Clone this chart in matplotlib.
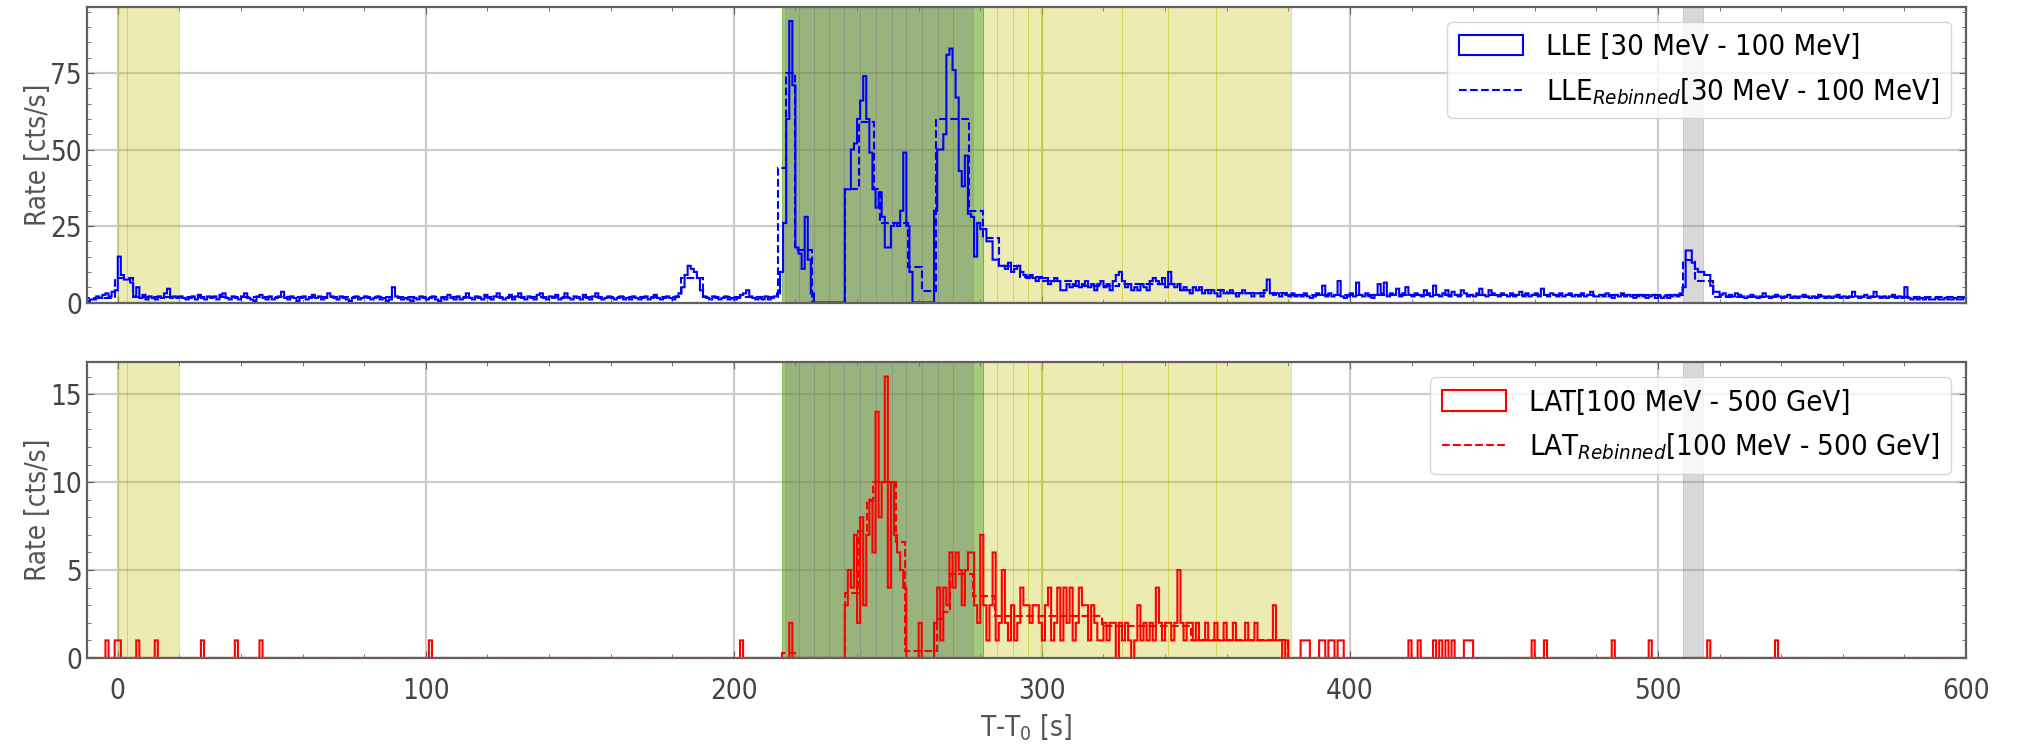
import numpy as np
import matplotlib.pyplot as plt
from matplotlib.ticker import MultipleLocator, AutoMinorLocator

# LLE light curve, 1 s bins starting at T0-10 s (rate in cts/s)
lle_pre = [0.5, 1, 1, 2, 1.5, 2.5, 3, 2, 3.5, 4,
           15, 9, 7.5, 7.5, 6.5, 2, 5, 1.5, 2.5, 1,
           2, 1.5, 1, 2, 1.5, 3, 4.5, 1.5, 2, 1.5]
lle_quiet = [2, 1.5, 1, 1.5, 2, 1, 2.5, 1.5, 1, 2,
             1.5, 2, 1, 2.5, 3, 1.5, 1, 2, 1.5, 1,
             2, 3, 1.5, 1, 0.5, 2, 2.5, 1.5, 1, 2,
             1, 1.5, 2, 3.5, 1.5, 1, 2, 1.5, 0.5, 1.5,
             2, 1, 1.5, 2.5, 1.5, 2, 1, 1.5, 3, 2,
             1.5, 1, 2, 1.5, 1, 0.5, 1.5, 2, 1, 1.5,
             2, 1.5, 1, 1.5, 2, 1, 1.5, 0.5, 1, 5,
             2, 1.5, 1, 1.5, 1, 0.5, 1.5, 1, 2, 1.5,
             1, 1.5, 2, 1, 0.5, 1.5, 1, 2.5, 1.5, 1,
             2, 1, 1.5, 3, 1.5, 1, 2, 1.5, 1, 2.5,
             1.5, 1, 2, 3, 1.5, 1, 1.5, 2.5, 1, 2,
             3, 1.5, 1, 2, 1.5, 1, 2.5, 3, 1.5, 1,
             2, 1.5, 2.5, 1, 1.5, 3, 1.5, 1, 2, 1.5,
             1, 2.5, 1.5, 1, 2, 3, 1.5, 1, 1.5, 2,
             1.5, 1, 1.5, 2, 1, 1.5, 1, 2, 1.5, 1,
             1.5, 2, 1, 1.5, 2.5, 1.5, 1, 1.5, 2, 1.5,
             1, 2, 3]
lle_precursor = [5, 9, 12, 11, 10, 8, 4, 2]
lle_quiet2 = [1.5, 1, 2, 1.5, 1, 1.5, 2, 1, 1.5, 1,
              1.5, 2.5, 3, 4, 2, 1.5, 1, 1.5, 1, 2,
              1, 1.5, 2]
lle_burst = [3, 10, 26, 60, 92, 71, 18, 16, 11, 28, 14, 3,
             0, 0, 0, 0, 0, 0, 0, 0, 0, 0,
             37, 37, 50, 52, 60, 66, 74, 60, 49, 37, 31,
             36, 28, 18, 18, 25, 26, 25, 30, 49, 25, 10,
             0, 0, 0, 0, 0, 0, 0,
             30, 50, 50, 55, 81, 83, 76, 67, 43, 38, 48, 29, 28,
             15, 26, 24, 24, 20, 20, 14, 14, 12, 12, 11, 13,
             10, 11, 12, 10, 9, 8, 9, 8, 7, 8,
             8, 8, 6, 7, 8, 7, 4, 4, 6, 5]
lle_tail = [6, 7, 5, 6, 7, 5, 6, 4, 6, 7,
            5, 6, 4, 7, 9, 10, 7, 5, 6, 4,
            5, 4, 6, 5, 4, 7, 8, 7, 6, 8,
            5, 10, 6, 5, 6, 4, 5, 4, 3, 5,
            4, 5, 3, 4, 3, 4, 3, 2, 4, 3,
            3, 4, 3, 2, 3, 4, 3, 3, 2, 3,
            3, 2, 4, 7.5, 3, 2.5, 3, 2, 3, 2.5]
lle_post = [2, 3, 2, 2.5, 2, 3, 2, 1.5, 2, 3,
            2.5, 5.5, 2, 3, 2, 2.5, 7, 2, 1.5, 2,
            3, 2, 6.5, 2.5, 2, 3, 2, 1.5, 2.5, 6,
            3, 6.5, 2, 3, 2.5, 4.5, 2, 3, 5, 2.5,
            2, 3, 2.5, 2, 4, 3, 2, 5.5, 2.5, 2,
            3, 4, 2, 3.5, 2.5, 2, 4, 3, 2, 2.5,
            2, 3, 4.5, 2.5, 2, 4, 3, 2.5, 2, 3,
            2.5, 2, 3, 2, 2.5, 3.5, 2, 3, 2, 2.5,
            3, 2, 4.5, 2.5, 2, 3, 2.5, 2, 3, 2,
            2.5, 3, 2, 2.5, 2, 3, 2, 2.5, 3.5, 2,
            2, 2.5, 2, 3, 2, 1.5, 2.5, 2, 3, 2,
            2.5, 2, 1.5, 2, 2.5, 2, 1.5, 2, 2.5, 1.5,
            2, 1.5, 2, 1.5, 2, 2.5, 2, 3, 5, 17,
            17, 13, 11, 10, 10, 9, 9, 5.5, 3.5, 3.5,
            2.5, 3, 2, 2.5, 2, 3, 2.5, 2, 1.5, 2,
            2.5, 2, 1.5, 2, 3, 2, 1.5, 2, 2.5, 2,
            1.5, 2, 2.5, 1.5, 2, 1.5, 2, 2.5, 2, 1.5,
            2, 1.5, 2.5, 2, 1.5, 2, 1.5, 2, 2.5, 1.5,
            2, 1.5, 2, 3.5, 2, 1.5, 2, 2.5, 1.5, 2,
            3.5, 2, 1.5, 2, 1.5, 2, 2.5, 1.5, 2, 1.5,
            5, 1.5, 1, 1.5, 1, 1.5, 1, 1.5, 1, 1,
            1.5, 1, 1, 1.5, 1, 1, 1.5, 1, 1, 1.5]

# LLE rebinned (block edges and rates)
lle_rb_edges = [-10, -1, 5, 183, 190, 214.5, 217, 220, 225.5, 236, 240.5, 245.5,
                247.5, 256.5, 261, 265.5, 276.5, 281, 286, 293, 300, 310, 325,
                345, 360, 380, 508, 512, 518, 600]
lle_rb_rate = [1.5, 8, 1.8, 8, 1.8, 44, 75, 17, 0, 37, 59, 37, 26, 11.6, 3.7,
               60, 30, 21, 12, 8.5, 7, 5.5, 6, 4, 3, 2.3, 14, 7, 1.8]

# LAT light curve, 1 s bins, only the non-empty bins listed
lat_t = [-4, -1, 0, 6, 12, 27, 38, 46, 101, 202, 218,
         236, 237, 238, 239, 240, 241, 242, 243, 244, 245, 246, 247, 248,
         249, 250, 251, 252, 253, 254, 255, 260,
         265, 266, 267, 268, 269, 270, 271, 272, 273, 274, 275, 276, 277,
         278, 279, 280, 281, 282, 283, 284, 285, 286, 287, 288, 289, 290,
         291, 292, 293, 294, 295, 296, 297, 298, 299, 300, 301, 302, 303,
         304, 305, 306, 307, 308, 309, 310, 311, 312, 313, 314, 315, 316,
         317, 318, 319, 320, 321, 322, 323, 325, 326, 327, 328, 330, 331,
         332, 333, 334, 335, 336, 337, 338, 339, 340, 341, 342, 343, 344,
         345, 346, 347, 348, 349, 350, 351, 352, 353, 354, 355, 356, 357,
         358, 359, 360, 361, 362, 363, 364, 365, 366, 367, 368, 369, 370,
         371, 372, 373, 374, 375, 376, 377, 379,
         384, 385, 386, 390, 391, 393, 394, 396, 397,
         419, 422, 427, 429, 431, 433, 437, 438, 439,
         459, 463, 485, 497, 516, 538]
lat_rate = [1, 1, 1, 1, 1, 1, 1, 1, 1, 1, 2,
            3, 5, 4, 7, 2, 8, 3, 7, 9, 6, 14, 8, 10,
            16, 4, 10, 7, 6, 5, 4, 2,
            2, 4, 1, 4, 3, 6, 4, 6, 5, 3, 5, 6, 6,
            3, 2, 7, 3, 1, 3, 6, 1, 2, 5, 2, 1, 3,
            1, 2, 4, 3, 3, 2, 3, 3, 2, 1, 3, 4, 1,
            2, 4, 1, 4, 2, 4, 1, 2, 4, 3, 3, 1, 3,
            2, 1, 1, 2, 1, 2, 2, 2, 1, 2, 1, 1, 3,
            1, 2, 1, 2, 1, 4, 2, 1, 2, 2, 1, 2, 5,
            2, 1, 2, 2, 1, 2, 1, 1, 2, 1, 1, 2, 1,
            1, 2, 1, 1, 2, 1, 1, 1, 2, 1, 1, 2, 1,
            1, 1, 1, 1, 3, 1, 1, 1,
            1, 1, 1, 1, 1, 1, 1, 1, 1,
            1, 1, 1, 1, 1, 1, 1, 1, 1,
            1, 1, 1, 1, 1, 1]

# LAT rebinned
lat_rb_edges = [-10, 215.5, 220, 236, 240.4, 243.3, 245.2, 252.7, 255.6, 265.8,
                268, 270.2, 277.5, 284.7, 319.4, 348.4, 380, 600]
lat_rb_rate = [0, 0.3, 0, 3.7, 7.2, 8.9, 10.0, 6.6, 0.4, 2.2, 2.6, 4.8, 3.5,
               2.4, 1.8, 1.0, 0]

# time intervals shaded on both panels
yellow_start = [0, 3, 215.5, 281, 285.5, 290.5, 295.5, 300, 326, 341, 356.5]
yellow_stop = [3, 20, 281, 285.5, 290.5, 295.5, 300, 326, 341, 356.5, 381]
green_start = [215.5]
green_stop = [281]
gray_start = [216.5, 221.3, 226, 231, 235.8, 241, 246, 251.2, 256, 261, 266.2, 271.2, 508]
gray_stop = [221.3, 226, 231, 235.8, 241, 246, 251.2, 256, 261, 266.2, 271.2, 277.7, 514.5]

plt.rcParams.update({
    'font.family': 'DejaVu Sans',
    'font.stretch': 'condensed',
    'font.size': 20,
    'axes.edgecolor': '#606060',
    'axes.linewidth': 1.6,
    'axes.labelcolor': '#555555',
    'xtick.direction': 'in',
    'ytick.direction': 'in',
    'xtick.top': True,
    'ytick.right': True,
    'xtick.color': '#606060',
    'ytick.color': '#606060',
    'xtick.labelcolor': '#444444',
    'ytick.labelcolor': '#444444',
    'xtick.major.size': 5,
    'ytick.major.size': 5,
    'xtick.minor.size': 3,
    'ytick.minor.size': 3,
    'xtick.major.pad': 14,
    'grid.color': '#cccccc',
    'grid.linewidth': 1.6,
})

lle_rate = np.concatenate([lle_pre, lle_quiet, lle_precursor, lle_quiet2,
                           lle_burst, lle_tail, lle_post])
edges = np.arange(-10, 601)
lat_full = np.zeros(len(edges) - 1)
lat_full[np.array(lat_t) + 10] = lat_rate

fig, (ax1, ax2) = plt.subplots(2, 1, figsize=(20.32, 7.52), dpi=100, sharex=True)
fig.subplots_adjust(left=0.0428, right=0.9675, top=0.9907, bottom=0.125, hspace=0.203)

for ax in (ax1, ax2):
    for a, b in zip(yellow_start, yellow_stop):
        ax.axvspan(a, b, color='y', alpha=0.3, lw=0.7)
    for a, b in zip(green_start, green_stop):
        ax.axvspan(a, b, color='g', alpha=0.3, lw=0.7)
    for a, b in zip(gray_start, gray_stop):
        ax.axvspan(a, b, color='gray', alpha=0.3, lw=0.7)

ax1.hist(edges[:-1], bins=edges, weights=lle_rate, histtype='step', color='b',
         lw=1.5, label='LLE [30 MeV - 100 MeV]')
ax1.stairs(lle_rb_rate, lle_rb_edges, color='b', ls='--', lw=1.5,
           label='LLE$_{Rebinned}$[30 MeV - 100 MeV]')
ax2.hist(edges[:-1], bins=edges, weights=lat_full, histtype='step', color='r',
         lw=1.5, label='LAT[100 MeV - 500 GeV]')
ax2.stairs(lat_rb_rate, lat_rb_edges, color='r', ls='--', lw=1.5,
           label='LAT$_{Rebinned}$[100 MeV - 500 GeV]')

ax1.set_ylim(0, max(lle_rate) * 1.05)
ax2.set_ylim(0, max(lat_rate) * 1.05)
ax1.yaxis.set_major_locator(MultipleLocator(25))
ax2.yaxis.set_major_locator(MultipleLocator(5))
ax2.set_xlim(-10, 600)
ax2.xaxis.set_major_locator(MultipleLocator(100))
ax2.xaxis.set_minor_locator(MultipleLocator(20))

for ax in (ax1, ax2):
    ax.yaxis.set_minor_locator(AutoMinorLocator(5))
    ax.grid(True, which='major')
    ax.set_axisbelow(True)
    ax.set_ylabel('Rate [cts/s]', labelpad=-1)
    ax.legend(loc='upper right', fancybox=True, framealpha=0.8, fontsize=21,
              edgecolor='#cccccc', handlelength=2.2)

ax1.tick_params(labelbottom=False)
ax2.set_xlabel('T-T$_0$ [s]', labelpad=5)

fig.savefig('out.png')
